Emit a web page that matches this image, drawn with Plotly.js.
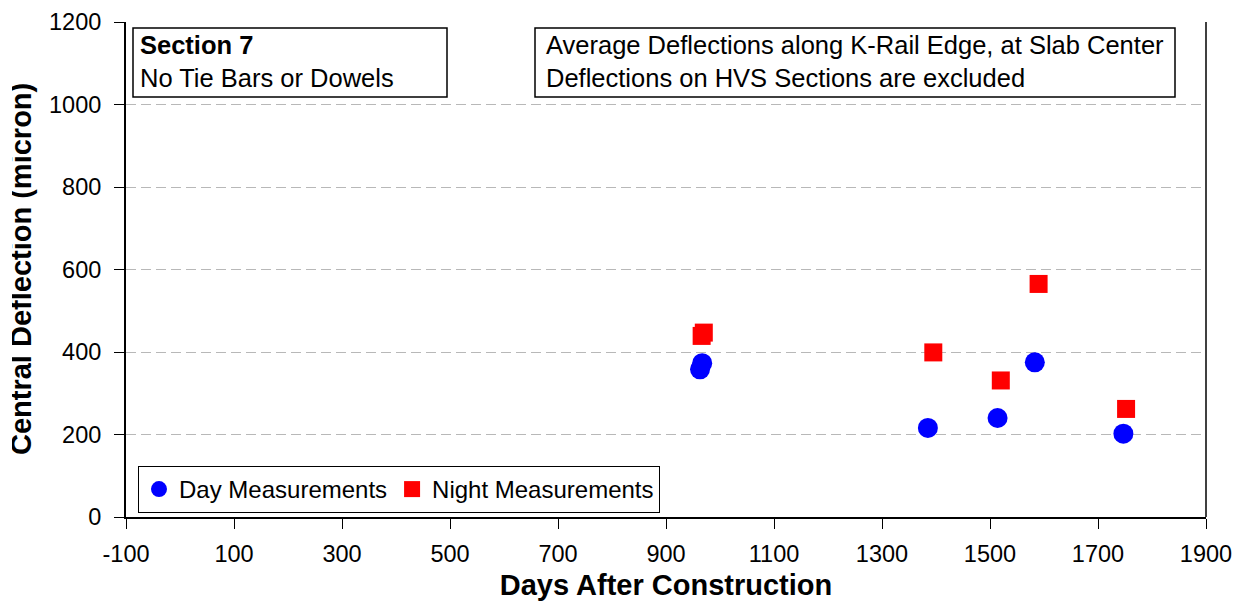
<!DOCTYPE html>
<html>
<head>
<meta charset="utf-8">
<script src="https://cdn.plot.ly/plotly-3.0.1.min.js"></script>
<style>
html,body{margin:0;padding:0;background:#fff;}
#wrap{position:relative;width:1243px;height:603px;}
#chart{width:1243px;height:603px;}
#edge{position:absolute;left:0;top:0;width:12px;height:603px;background:#fff;}
</style>
</head>
<body>
<div id="wrap"><div id="chart"></div><div id="edge"></div></div>
<script>
// Data
const dayDays = [963, 967, 1385, 1514, 1583, 1747];
const dayDeflection = [358, 373, 216, 240, 375, 202];
const nightDays = [966, 970, 1395, 1520, 1590, 1752];
const nightDeflection = [439, 447, 399, 331, 565, 262];

const xTickVals = [-100, 100, 300, 500, 700, 900, 1100, 1300, 1500, 1700, 1900];
const yTickVals = [0, 200, 400, 600, 800, 1000, 1200];

const FONT = '"Liberation Sans", Arial, sans-serif';

const traces = [
  {
    x: dayDays, y: dayDeflection, type: 'scatter', mode: 'markers',
    name: 'Day Measurements',
    marker: {symbol: 'circle', size: 20, color: '#0000ff'}
  },
  {
    x: nightDays, y: nightDeflection, type: 'scatter', mode: 'markers',
    name: 'Night Measurements',
    marker: {symbol: 'square', size: 18, color: '#ff0000'}
  }
];

const W = 1243, H = 603;
const M = {l: 126, r: 37, t: 22, b: 86};
const pw = W - M.l - M.r, ph = H - M.t - M.b;
const px = v => (v - M.l) / pw;
const py = v => (H - M.b - v) / ph;

const boxStyle = {color: '#000', width: 1.5};

const layout = {
  width: W, height: H,
  margin: M,
  paper_bgcolor: '#ffffff', plot_bgcolor: '#ffffff',
  font: {family: FONT, size: 22, color: '#000'},
  showlegend: true,
  legend: {
    orientation: 'h',
    x: px(138), y: py(513), xanchor: 'left', yanchor: 'bottom',
    bordercolor: '#000', borderwidth: 1, bgcolor: '#fff',
    font: {family: FONT, size: 24, color: '#000'},
    itemwidth: 30, tracegroupgap: 0
  },
  xaxis: {
    range: [-100, 1900], tickvals: xTickVals, ticktext: xTickVals.map(String),
    ticks: 'outside', ticklen: 10, tickwidth: 1, tickcolor: '#000',
    showline: true, linecolor: '#000', linewidth: 2,
    showgrid: false, zeroline: false, ticklabelstandoff: 5,
    tickfont: {family: FONT, size: 23.5, color: '#000'},
    title: {text: '<b>Days After Construction</b>', font: {family: FONT, size: 29, color: '#000'}, standoff: 8}
  },
  yaxis: {
    range: [0, 1200], tickvals: yTickVals, ticktext: yTickVals.map(String),
    ticks: 'outside', ticklen: 10, tickwidth: 1, tickcolor: '#000',
    showline: true, linecolor: '#000', linewidth: 2,
    showgrid: true, gridcolor: '#b8b8b8', griddash: '10px,5px', gridwidth: 1,
    zeroline: false, ticklabelstandoff: 8,
    tickfont: {family: FONT, size: 23.5, color: '#000'}
  },
  shapes: [
    {type: 'line', xref: 'paper', yref: 'paper', x0: 1, x1: 1, y0: 0, y1: 1,
     line: {color: '#404040', width: 2}},
    {type: 'rect', xref: 'paper', yref: 'paper', x0: px(133), x1: px(447), y0: py(97), y1: py(28),
     line: boxStyle, fillcolor: '#fff', layer: 'above'},
    {type: 'rect', xref: 'paper', yref: 'paper', x0: px(535), x1: px(1175), y0: py(97), y1: py(28),
     line: boxStyle, fillcolor: '#fff', layer: 'above'}
  ],
  annotations: [
    {
      xref: 'paper', yref: 'paper', x: px(138), y: py(61.5), xanchor: 'left', yanchor: 'middle',
      text: '<b>Section 7</b><br>No Tie Bars or Dowels', align: 'left', showarrow: false,
      font: {family: FONT, size: 25.5, color: '#000'}
    },
    {
      xref: 'paper', yref: 'paper', x: px(544), y: py(61.5), xanchor: 'left', yanchor: 'middle',
      text: 'Average Deflections along K-Rail Edge, at Slab Center<br>Deflections on HVS Sections are excluded',
      align: 'left', showarrow: false,
      font: {family: FONT, size: 25.5, color: '#000'}
    },
    {
      xref: 'paper', yref: 'paper', x: px(20.5), y: 0.5, xanchor: 'center', yanchor: 'middle',
      text: '<b>Central Deflection (micron)</b>', textangle: -90, showarrow: false,
      font: {family: FONT, size: 29, color: '#000'}
    }
  ]
};

Plotly.newPlot('chart', traces, layout, {displayModeBar: false, staticPlot: true});
</script>
</body>
</html>
